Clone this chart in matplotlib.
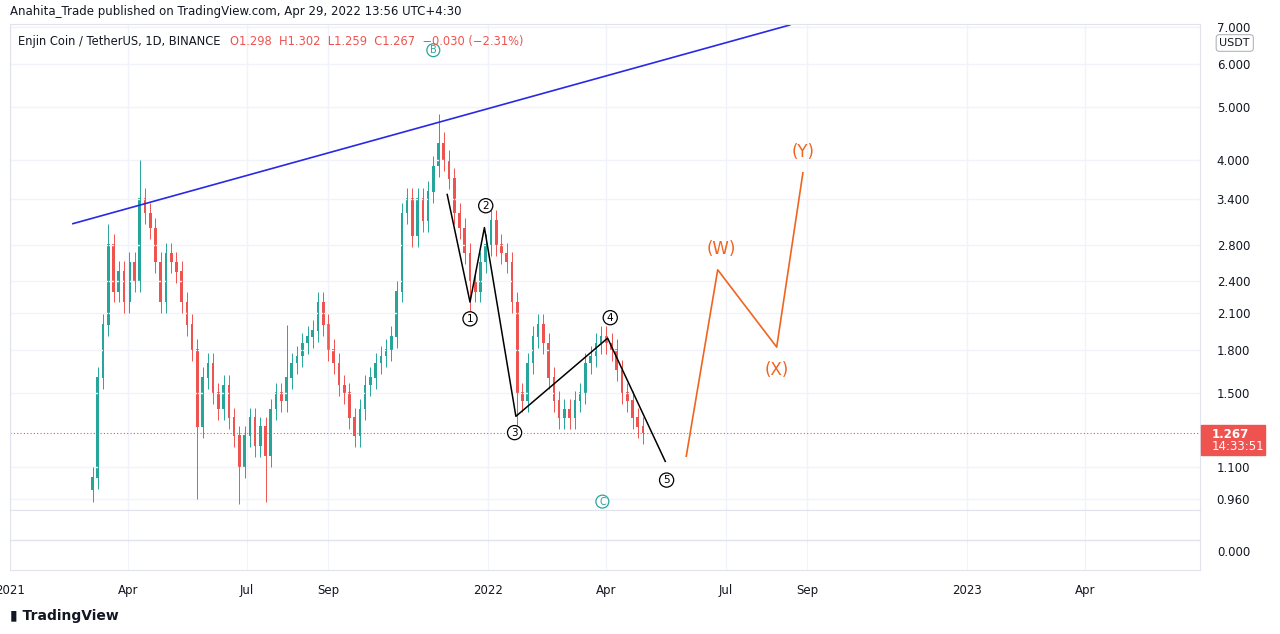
import numpy as np
import matplotlib
matplotlib.use('Agg')
import matplotlib.pyplot as plt

# days since 2021-01-01, one candle per 4 days
days = list(range(63, 484, 4))
closes = [1.05, 1.6, 2.0, 2.8, 2.3, 2.5, 2.2, 2.6, 2.4, 3.4, 3.2, 3.0, 2.6, 2.2, 2.7, 2.6,
          2.5, 2.2, 2.0, 1.8, 1.3, 1.6, 1.7, 1.5, 1.4, 1.55, 1.35, 1.25, 1.1, 1.25, 1.35, 1.2,
          1.3, 1.15, 1.4, 1.5, 1.45, 1.6, 1.7, 1.75, 1.85, 1.9, 1.95, 2.2, 2.0, 1.8, 1.7, 1.55,
          1.5, 1.35, 1.25, 1.4, 1.55, 1.6, 1.7, 1.75, 1.8, 1.9, 2.3, 3.2, 3.4, 2.9, 3.4, 3.1,
          3.5, 3.9, 4.3, 4.0, 3.7, 3.2, 3.0, 2.7, 2.4, 2.3, 2.6, 2.8, 3.1, 2.8, 2.7, 2.6,
          2.2, 1.5, 1.45, 1.7, 1.9, 2.0, 1.85, 1.6, 1.45, 1.35, 1.4, 1.35, 1.45, 1.5, 1.7, 1.75,
          1.85, 1.9, 1.85, 1.8, 1.65, 1.5, 1.45, 1.35, 1.3, 1.267]
spike_highs = {99: 4.0, 327: 4.85, 75: 3.05, 211: 2.0}
spike_lows = {63: 0.95, 143: 0.96, 175: 0.94, 195: 0.95, 387: 1.3, 351: 2.05}

wave_d = [333.6, 351, 362, 386, 456, 500]
wave_p = [3.46, 2.20, 3.01, 1.36, 1.89, 1.125]
proj_d = [516, 540, 585, 605]
proj_p = [1.15, 2.52, 1.82, 3.79]
trend_d = [48, 595]
trend_p = [3.06, 7.06]
num_labels = ['1', '2', '3', '4', '5']
num_d = [351, 363, 385, 458, 501]
num_p = [2.05, 3.30, 1.27, 2.06, 1.04]
abc_labels = ['B', 'C']
abc_d = [323, 452]
abc_p = [6.35, 0.95]
wxy_labels = ['(W)', '(X)', '(Y)']
wxy_d = [543, 585, 605]
wxy_p = [2.75, 1.65, 4.13]

yticks = [0.96, 1.1, 1.5, 1.8, 2.1, 2.4, 2.8, 3.4, 4.0, 5.0, 6.0, 7.0]
xtick_d = [0, 90, 181, 243, 365, 455, 546, 608, 730, 820]
xtick_l = ['2021', 'Apr', 'Jul', 'Sep', '2022', 'Apr', 'Jul', 'Sep', '2023', 'Apr']
last = 1.267

up, dn = '#26a69a', '#ef5350'
W, H = 1280, 634
fig = plt.figure(figsize=(W / 100, H / 100), dpi=100)
fx = lambda px: px / W
fy = lambda py: 1 - py / H

ax = fig.add_axes([fx(10), fy(510), fx(1190), fy(24) - fy(510)])
ax.set_yscale('log')
ax.set_xlim(0, 908)
ax.set_ylim(0.917, 7.09)
for s in ax.spines.values():
    s.set_color('#e0e3eb')
ax.set_xticks(xtick_d)
ax.set_xticklabels([])
ax.tick_params(length=0)
ax.grid(True, color='#f0f3fa', lw=1)
ax.yaxis.tick_right()
ax.set_yticks(yticks)
ax.set_yticklabels(['%.3f' % v for v in yticks], fontsize=8.5, color='#131722')
ax.yaxis.set_minor_locator(matplotlib.ticker.NullLocator())
ax.tick_params(axis='y', pad=12)

prev = closes[0] * 0.95
for d, c in zip(days, closes):
    o = prev
    col = up if c >= o else dn
    hi = spike_highs.get(d, max(o, c) * 1.045)
    lo = spike_lows.get(d, min(o, c) * 0.955)
    ax.vlines(d, lo, hi, color=col, lw=0.7)
    ax.bar(d, max(o, c) - min(o, c) + 0.005, bottom=min(o, c), width=2.0, color=col, lw=0)
    prev = c

ax.axhline(last, color=dn, lw=0.8, ls=(0, (1, 2)))
ax.plot(trend_d, trend_p, color='#2929e6', lw=1.2)
ax.plot(wave_d, wave_p, color='black', lw=1.1)
ax.plot(proj_d, proj_p, color='#f0641e', lw=1.2)
for t, d, p in zip(num_labels, num_d, num_p):
    ax.text(d, p, t, ha='center', va='center', fontsize=7.5,
            bbox=dict(boxstyle='circle,pad=0.2', fc='white', ec='black', lw=0.9))
for t, d, p in zip(abc_labels, abc_d, abc_p):
    ax.text(d, p, t, ha='center', va='center', fontsize=7, color=up,
            bbox=dict(boxstyle='circle,pad=0.15', fc='white', ec=up, lw=0.9))
for t, d, p in zip(wxy_labels, wxy_d, wxy_p):
    ax.text(d, p, t, ha='center', va='center', fontsize=12, color='#f0641e')

# lower pane
ax2 = fig.add_axes([fx(10), fy(570), fx(1190), fy(510) - fy(570)])
ax2.set_xlim(0, 908)
ax2.set_ylim(0, 1)
ax2.set_xticks(xtick_d)
ax2.set_xticklabels(xtick_l, fontsize=8.5, color='#131722')
ax2.tick_params(length=0, pad=10)
ax2.set_yticks([])
ax2.grid(True, axis='x', color='#f0f3fa')
ax2.axhline(0.5, color='#e0e3eb', lw=1)
for s in ax2.spines.values():
    s.set_color('#e0e3eb')
fig.text(fx(1250), fy(553), '0.000', ha='right', va='center', fontsize=8.5, color='#131722')

# price label box
fig.patches.append(plt.Rectangle((fx(1201), fy(455)), fx(64), fy(425) - fy(455),
                                 transform=fig.transFigure, color=dn))
fig.text(fx(1212), fy(434), '%.3f' % last, color='white', fontsize=8.5, va='center', weight='bold')
fig.text(fx(1212), fy(447), '14:33:51', color='white', fontsize=8.5, va='center')
fig.text(fx(1250), fy(43), 'USDT', ha='right', va='center', fontsize=8, color='#131722',
         bbox=dict(boxstyle='round,pad=0.3', fc='white', ec='#b2b5be', lw=0.8))

fig.text(fx(10), fy(12), 'Anahita_Trade published on TradingView.com, Apr 29, 2022 13:56 UTC+4:30',
         fontsize=8.5, va='center', color='#131722')
fig.text(fx(18), fy(42), 'Enjin Coin / TetherUS, 1D, BINANCE', fontsize=8.3, va='center', color='#131722')
fig.text(fx(230), fy(42), 'O1.298  H1.302  L1.259  C1.267  \u22120.030 (\u22122.31%)',
         fontsize=8.3, va='center', color=dn)
fig.text(fx(10), fy(616), '\u25ae TradingView', fontsize=10, va='center', color='#131722', weight='bold')

fig.savefig('out.png', dpi=100, facecolor='white')
